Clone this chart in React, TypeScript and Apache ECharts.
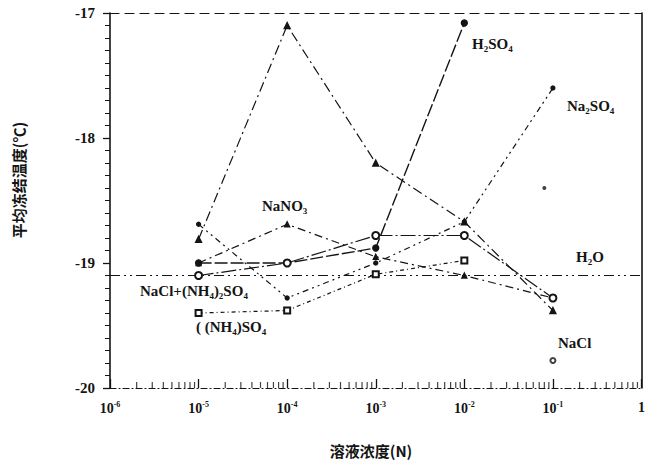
import React, { useEffect, useRef } from "react";
import * as echarts from "echarts";

// ---- data ----
const concentrations = [1e-5, 1e-4, 1e-3, 1e-2, 1e-1];
const naclValues = [-18.81, -17.1, -18.2, -18.67, -19.38];
const h2so4Values = [-19.0, -19.0, -18.88, -17.08];
const na2so4Values = [-18.69, -19.28, -19.0, -18.67, -17.6];
const nano3Values = [-19.0, -18.69, -18.95, -19.1, -19.28];
const naclNh4Values = [-19.1, -19.0, -18.78, -18.78, -19.28];
const nh4so4Values = [-19.4, -19.38, -19.09, -18.98];
const h2oValue = -19.1;
const strayPoints: [number, number][] = [
  [0.08, -18.4],
];
const strayOpenPoints: [number, number][] = [
  [0.1, -19.78],
];
const decadeStarts = [1e-6, 1e-5, 1e-4, 1e-3, 1e-2, 1e-1];
const mantissas = [2, 3, 4, 5, 6, 7, 8, 9];
const yTicks = [-20, -19, -18, -17];

const INK = "#141414";
const SERIF = "'Liberation Serif', 'DejaVu Serif', serif";

const pair = (vals: number[]) => vals.map((v, i) => [concentrations[i], v]);

export default function App() {
  const ref = useRef<HTMLDivElement>(null);
  useEffect(() => {
    if (!ref.current) return;
    const chart = echarts.init(ref.current, null, { renderer: "svg" });

    const minorTicks: number[][] = [];
    decadeStarts.forEach((d) =>
      mantissas.forEach((m) => minorTicks.push([d * m, yTicks[0]]))
    );

    const lineSeries = (
      name: string,
      vals: number[],
      dash: number[] | string,
      symbol: string,
      size: number,
      width = 1.2
    ) => ({
      name,
      type: "line",
      data: pair(vals),
      symbol,
      symbolSize: size,
      showSymbol: true,
      silent: true,
      lineStyle: { color: INK, width, type: dash },
      itemStyle: {
        color: INK,
        borderColor: INK,
        borderWidth: 1.3,
      },
      z: 3,
    });

    const chem = (
      x: number,
      y: number,
      parts: [string, boolean][],
      size = 15
    ) => ({
      type: "text",
      x,
      y,
      silent: true,
      style: {
        text: parts
          .map(([t, sub]) => (sub ? `{s|${t}}` : `{n|${t}}`))
          .join(""),
        fill: INK,
        verticalAlign: "middle",
        rich: {
          n: { fontSize: size, fontWeight: "bold", fontFamily: SERIF, fill: INK },
          s: {
            fontSize: Math.round(size * 0.62),
            fontWeight: "bold",
            fontFamily: SERIF,
            fill: INK,
            padding: [9, 0, 0, 0],
          },
        },
      },
    });

    chart.setOption({
      animation: false,
      backgroundColor: "#fff",
      grid: { left: 110, right: 1, top: 13, bottom: 75, containLabel: false },
      xAxis: [
        {
          type: "log",
          logBase: 10,
          min: 1e-6,
          max: 1,
          splitNumber: 6,
          axisLine: {
            show: true,
            lineStyle: { color: INK, width: 1.2, type: [6, 3, 1, 3] },
          },
          axisTick: { show: true, inside: true, length: 9, lineStyle: { color: INK, width: 1.3 } },
          minorTick: { show: false },
          splitLine: { show: false },
          axisLabel: {
            margin: 12,
            formatter: (v: number) => {
              const e = Math.round(Math.log10(v));
              if (e === 0) return "{b|1}";
              return `{b|10}{s|${e}}`;
            },
            rich: {
              b: { fontSize: 14, fontWeight: "bold", fontFamily: SERIF, color: INK },
              s: {
                fontSize: 8,
                fontWeight: "bold",
                fontFamily: SERIF,
                color: INK,
                padding: [0, 0, 8, 0],
              },
            },
          },
        },
        {
          type: "log",
          logBase: 10,
          min: 1e-6,
          max: 1,
          position: "top",
          axisLine: {
            show: true,
            lineStyle: { color: INK, width: 1.2, type: [9, 6] },
          },
          axisTick: { show: false },
          axisLabel: { show: false },
          splitLine: { show: false },
        },
      ],
      yAxis: [
        {
          type: "value",
          min: -20,
          max: -17,
          interval: 1,
          axisLine: { show: true, lineStyle: { color: INK, width: 1.6 } },
          axisTick: { show: true, length: 7, lineStyle: { color: INK, width: 1.3 } },
          minorTick: { show: true, splitNumber: 10, length: 5, lineStyle: { color: INK, width: 1 } },
          splitLine: { show: false },
          axisLabel: {
            margin: 15,
            fontSize: 15,
            fontWeight: "bold",
            fontFamily: SERIF,
            color: INK,
          },
        },
        {
          type: "value",
          min: -20,
          max: -17,
          position: "right",
          axisLine: { show: true, lineStyle: { color: INK, width: 1.6 } },
          axisTick: { show: false },
          axisLabel: { show: false },
          splitLine: { show: false },
        },
      ],
      series: [
        {
          name: "H2O",
          type: "line",
          data: [
            [1e-6, h2oValue],
            [1, h2oValue],
          ],
          symbol: "none",
          silent: true,
          lineStyle: { color: INK, width: 1.2, type: [10, 4, 2, 4, 2, 4] },
          z: 2,
        },
        lineSeries("NaCl", naclValues, [10, 4, 2, 4], "triangle", 6),
        lineSeries("H2SO4", h2so4Values, [13, 3], "circle", 6, 1.4),
        lineSeries("Na2SO4", na2so4Values, [6, 4, 2, 4, 2, 4], "circle", 4),
        lineSeries("NaNO3", nano3Values, [8, 4, 2, 4], "triangle", 5),
        lineSeries("NaCl+(NH4)2SO4", naclNh4Values, [15, 3, 2, 3], "emptyCircle", 7),
        lineSeries("(NH4)2SO4", nh4so4Values, [4, 3, 1, 3], "emptyRect", 6),
        {
          name: "stray",
          type: "scatter",
          data: strayPoints,
          symbol: "circle",
          symbolSize: 4,
          silent: true,
          itemStyle: { color: INK },
        },
        {
          name: "strayOpen",
          type: "scatter",
          data: strayOpenPoints,
          symbol: "emptyCircle",
          symbolSize: 5,
          silent: true,
          itemStyle: { color: INK, borderColor: INK, borderWidth: 1.2 },
        },
        {
          name: "minorTicks",
          type: "scatter",
          data: minorTicks,
          symbol: "rect",
          symbolSize: [1.2, 6],
          symbolOffset: [0, -3],
          silent: true,
          itemStyle: { color: INK },
          z: 1,
        },
      ],
      graphic: [
        chem(472, 44, [["H", false], ["2", true], ["SO", false], ["4", true]]),
        chem(567, 106, [["Na", false], ["2", true], ["SO", false], ["4", true]]),
        chem(262, 206, [["NaNO", false], ["3", true]]),
        chem(576, 257, [["H", false], ["2", true], ["O", false]]),
        chem(140, 291, [
          ["NaCl+(NH", false],
          ["4", true],
          [")", false],
          ["2", true],
          ["SO", false],
          ["4", true],
        ]),
        chem(196, 327, [["( (NH", false], ["4", true], [")SO", false], ["4", true]]),
        chem(558, 343, [["NaCl", false]]),
        {
          type: "text",
          x: 18,
          y: 180,
          rotation: Math.PI / 2,
          silent: true,
          style: {
            text: "平均冻结温度(℃)",
            fontSize: 15,
            fontWeight: "bold",
            fontFamily: "'Noto Sans CJK SC', sans-serif",
            fill: INK,
            align: "center",
            verticalAlign: "middle",
          },
        },
        {
          type: "text",
          x: 371,
          y: 450,
          silent: true,
          style: {
            text: "溶液浓度(N)",
            fontSize: 15,
            fontWeight: "bold",
            fontFamily: "'Noto Sans CJK SC', sans-serif",
            fill: INK,
            align: "center",
            verticalAlign: "middle",
          },
        },
      ],
    });
    return () => chart.dispose();
  }, []);

  return (
    <div
      ref={ref}
      style={{ position: "fixed", left: 0, top: 0, width: 648, height: 463, background: "#fff" }}
    />
  );
}
